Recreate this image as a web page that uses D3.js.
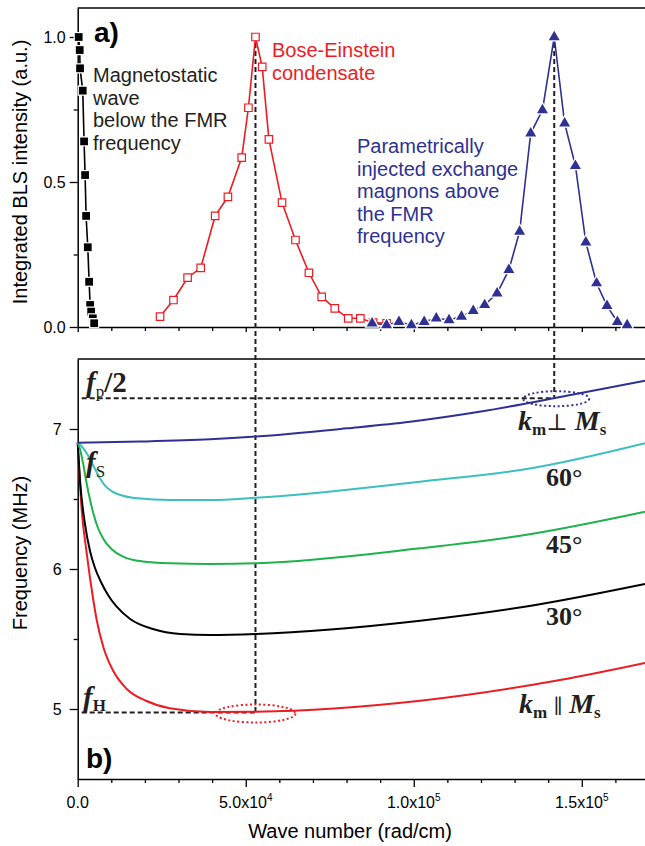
<!DOCTYPE html>
<html>
<head>
<meta charset="utf-8">
<script src="https://cdn.jsdelivr.net/npm/d3@7"></script>
<style>
body{margin:0;background:#fff;}
svg{display:block;font-family:Arial,"Liberation Sans",sans-serif;}
</style>
</head>
<body>
<script>
//begin data  (wave number k in 1e3 rad/cm)
var msK=[0.3,0.6,0.7,1.5,1.9,2.2,2.5,3.0,3.4,3.7,4.0,4.5,4.9];
var msI=[1.0,0.955,0.892,0.815,0.64,0.524,0.383,0.275,0.156,0.076,0.053,0.03,0.013];
var becK=[24.5,28.5,32.7,36.6,40.9,44.7,48.8,50.8,52.9,54.9,56.9,60.8,64.8,68.8,72.6,76.5,80.5,84.1,87.9,91.9];
var becI=[0.036,0.093,0.170,0.204,0.383,0.449,0.584,0.756,1.0,0.897,0.647,0.429,0.30,0.187,0.104,0.064,0.03,0.03,0.015,0.013];
var exK=[87.6,91.9,95.6,99.3,103.1,106.7,110.5,114.2,117.7,121.1,124.8,128.3,131.5,134.8,138.3,141.8,144.9,148.1,151.2,154.4,157.5,160.6,163.5];
var exI=[0.013,0.007,0.018,0.007,0.018,0.03,0.024,0.036,0.056,0.076,0.116,0.197,0.329,0.668,0.748,1.0,0.702,0.556,0.292,0.151,0.073,0.018,0.007];

// dispersion curves, frequency in MHz
var perpK=[0,18.5,39.4,53.1,80.2,98.9,120,141.6,168.8];
var perpF=[6.902,6.91,6.926,6.946,7.005,7.052,7.125,7.219,7.345];
var a60K=[0,0.68,2.17,3.66,5.15,6.64,8.13,10.2,13.2,17.7,27.4,39.4,53.1,101.9,134.9,168.8];
var a60F=[6.902,6.889,6.846,6.786,6.714,6.646,6.596,6.554,6.525,6.505,6.493,6.493,6.509,6.624,6.719,6.898];
var a45K=[0,0.68,1.58,2.47,3.36,4.55,6.04,7.83,10.2,13.5,19.4,27.4,39.4,53.1,101.9,134.9,168.8];
var a45F=[6.902,6.857,6.757,6.636,6.529,6.407,6.293,6.207,6.139,6.089,6.054,6.041,6.036,6.041,6.148,6.25,6.409];
var a30K=[0,0.68,2.17,3.66,5.15,6.93,9.02,11.4,15.6,22.4,30.5,39.4,53.1,101.9,134.9,168.8];
var a30F=[6.902,6.636,6.321,6.129,6.007,5.907,5.814,5.736,5.643,5.571,5.536,5.529,5.536,5.631,5.738,5.893];
var parK=[0,1.19,2.68,3.66,4.55,5.65,7.62,10.6,14.6,20.5,27.4,39.4,53.1,101.9,143.5,168.8];
var parF=[6.902,6.421,6.114,5.936,5.793,5.636,5.443,5.271,5.143,5.057,5.005,4.979,4.981,5.059,5.207,5.329];

var fpHalf=7.22, fH=4.975;
var yTopTicks=[0,0.5,1.0], yTopMinor=[0.25,0.75];
var yBotTicks=[5,6,7], yBotMinor=[5.5,6.5];
var xTicks=[0,50,100,150];
var xMinor=[10,20,30,40,60,70,80,90,110,120,130,140,160];
var xTickMant=["0.0","5.0x10","1.0x10","1.5x10"], xTickExp=["","4","5","5"];
//end data

var W=645,H=846;
var cBlue="#2e3192",cRed="#ed1c24",cCyan="#3bbfbf",cGreen="#1fb14b",cDash="#231f20";

var svg=d3.select("body").append("svg").attr("width",W).attr("height",H);

var x=d3.scaleLinear().domain([0,170]).range([77.7,649]);
var yT=d3.scaleLinear().domain([0,1.1]).range([327,8]);
var yB=d3.scaleLinear().domain([4.5,7.5]).range([779,359]);

function zip(a,b){return a.map(function(v,i){return [v,b[i]];});}

//frames
svg.append("line").attr("x1",x(0)).attr("x2",W).attr("y1",yT(1.1)).attr("y2",yT(1.1))
  .attr("stroke","#000").attr("stroke-width",1.5);
svg.append("line").attr("x1",x(0)).attr("x2",W).attr("y1",yB(7.5)).attr("y2",yB(7.5))
  .attr("stroke","#000").attr("stroke-width",1.5);

//axes
function styleAxis(g){
  g.select(".domain").attr("stroke-width",1.5);
  g.selectAll(".tick line").attr("stroke-width",1.3);
  g.selectAll("text").attr("font-size",16).attr("font-family","Arial,'Liberation Sans',sans-serif").attr("fill","#000");
}
function minor(g){g.select(".domain").remove();g.selectAll("line").attr("stroke-width",1.3);}

var gyT=svg.append("g").attr("transform","translate("+x(0)+",0)")
  .call(d3.axisLeft(yT).tickValues(yTopTicks).tickFormat(d3.format(".1f")).tickSize(8).tickSizeOuter(0).tickPadding(4));
styleAxis(gyT);
svg.append("g").attr("transform","translate("+x(0)+",0)")
  .call(d3.axisLeft(yT).tickValues(yTopMinor).tickFormat("").tickSize(4).tickSizeOuter(0)).call(minor);

var gyB=svg.append("g").attr("transform","translate("+x(0)+",0)")
  .call(d3.axisLeft(yB).tickValues(yBotTicks).tickFormat(d3.format("d")).tickSize(8).tickSizeOuter(0).tickPadding(8));
styleAxis(gyB);
svg.append("g").attr("transform","translate("+x(0)+",0)")
  .call(d3.axisLeft(yB).tickValues(yBotMinor).tickFormat("").tickSize(4).tickSizeOuter(0)).call(minor);

[yT(0),yB(4.5)].forEach(function(yy,i){
  var g=svg.append("g").attr("transform","translate(0,"+yy+")")
    .call(d3.axisBottom(x).tickValues(xTicks).tickFormat("").tickSize(i?8:5).tickSizeOuter(0));
  styleAxis(g);
  svg.append("g").attr("transform","translate(0,"+yy+")")
    .call(d3.axisBottom(x).tickValues(xMinor).tickFormat("").tickSize(4).tickSizeOuter(0)).call(minor);
});
//x tick labels with exponent
var xl=svg.append("g").selectAll("text").data(xTicks).enter().append("text")
  .attr("x",function(d){return x(d);}).attr("y",808).attr("text-anchor","middle")
  .attr("font-size",16);
xl.append("tspan").text(function(d,i){return xTickMant[i];});
xl.append("tspan").attr("dy",-7).attr("font-size",10).text(function(d,i){return xTickExp[i];});

//axis titles
svg.append("text").attr("transform","translate(27,172) rotate(-90)").attr("text-anchor","middle")
  .attr("font-size",20).text("Integrated BLS intensity (a.u.)");
svg.append("text").attr("transform","translate(27,553) rotate(-90)").attr("text-anchor","middle")
  .attr("font-size",20).text("Frequency (MHz)");
svg.append("text").attr("x",350).attr("y",838).attr("text-anchor","middle")
  .attr("font-size",20).text("Wave number (rad/cm)");

//guide lines
var becPeak=becK[becI.indexOf(d3.max(becI))], exPeak=exK[exI.indexOf(d3.max(exI))];
var dash={"stroke":cDash,"stroke-width":2,"stroke-dasharray":"5,3","fill":"none"};
function ln(x1,y1,x2,y2){
  var l=svg.append("line").attr("x1",x1).attr("y1",y1).attr("x2",x2).attr("y2",y2);
  for(var k in dash) l.attr(k,dash[k]);
}
ln(x(becPeak),yT(1)+6,x(becPeak),yB(fH));
ln(x(exPeak),yT(1)+6,x(exPeak),yB(fpHalf));
ln(x(0)+4,yB(fpHalf),x(exPeak),yB(fpHalf));
ln(x(0)+4,yB(fH),x(becPeak),yB(fH));

//dispersion curves
var line=d3.line().x(function(d){return x(d[0]);}).y(function(d){return yB(d[1]);}).curve(d3.curveMonotoneX);
var curves=[[parK,parF,cRed],[a30K,a30F,"#000"],[a45K,a45F,cGreen],[a60K,a60F,cCyan],[perpK,perpF,cBlue]];
curves.forEach(function(c){
  svg.append("path").datum(zip(c[0],c[1])).attr("d",line)
    .attr("fill","none").attr("stroke",c[2]).attr("stroke-width",2);
});

//dotted ellipses
svg.append("ellipse").attr("cx",x(becPeak)).attr("cy",yB(fH)+1).attr("rx",40).attr("ry",9)
  .attr("fill","none").attr("stroke",cRed).attr("stroke-width",2).attr("stroke-dasharray","2,2.5");
svg.append("ellipse").attr("cx",x(exPeak)+2).attr("cy",yB(fpHalf)+0.5).attr("rx",33).attr("ry",7.5)
  .attr("fill","none").attr("stroke",cBlue).attr("stroke-width",2).attr("stroke-dasharray","2,2.5");

//BLS data
var lineT=d3.line().x(function(d){return x(d[0]);}).y(function(d){return yT(d[1]);});
function series(k,v,col,sym,size,filled){
  svg.append("path").datum(zip(k,v)).attr("d",lineT)
    .attr("fill","none").attr("stroke",col).attr("stroke-width",1.6);
  svg.append("g").selectAll("path").data(zip(k,v)).enter().append("path")
    .attr("transform",function(d){return "translate("+x(d[0])+","+yT(d[1])+")";})
    .attr("d",d3.symbol().type(sym).size(size))
    .attr("fill",filled?col:"#fff")
    .attr("stroke",filled?"#fff":col)
    .attr("stroke-width",filled?2.5:1.2)
    .style("paint-order",filled?"stroke":"normal");
}
series(becK,becI,cRed,d3.symbolSquare,56,false);
series(msK,msI,"#000",d3.symbolSquare,60,true);
series(exK,exI,cBlue,d3.symbolTriangle,52,true);

//annotations
function lines(arr,x0,y0,dy,col){
  arr.forEach(function(t,i){
    svg.append("text").attr("x",x0).attr("y",y0+i*dy).attr("font-size",20).attr("fill",col).text(t);
  });
}
lines(["Magnetostatic","wave","below the FMR","frequency"],93,82,22.7,"#231f20");
lines(["Bose-Einstein","condensate"],272,57,22.5,cRed);
lines(["Parametrically","injected exchange","magnons above","the FMR","frequency"],357,153,22.5,cBlue);

svg.append("text").attr("x",94).attr("y",42).attr("font-size",28).attr("font-weight","bold").text("a)");
svg.append("text").attr("x",86).attr("y",768).attr("font-size",28).attr("font-weight","bold").text("b)");

var serif="'Liberation Serif','Times New Roman',serif";
function sym(x0,y0,fs,parts){
  var t=svg.append("text").attr("x",x0).attr("y",y0).attr("font-family",serif)
    .attr("font-weight","bold").attr("font-size",fs).attr("fill","#231f20");
  parts.forEach(function(p){
    var s=t.append("tspan").text(p[0]);
    if(p[1]) s.attr("font-style","italic");
    if(p[2]) s.attr("font-size",p[2]);
    if(p[3]) s.attr("dy",p[3]);
    if(p[4]) s.attr("font-family",p[4]);
    if(p[5]) s.attr("font-weight",p[5]);
  });
}
sym(86,392,29,[["f",1],["p",0,17,5,null,"normal"],["/2",0,0,-5]]);
sym(86,472,29,[["f",1],["S",0,17,5,null,"normal"]]);
sym(83,707,29,[["f",1],["H",0,17,4]]);
sym(518,430,28,[["k",1],["m",0,17,5],["\u22A5",0,23,-5,"'DejaVu Serif',serif","normal"],[" ",0],["M",1],["s",0,17,5]]);
sym(519,713,28,[["k",1],["m",0,17,5],[" \u2225 ",0,20,-5,"'DejaVu Serif',serif","normal"],["M",1],["s",0,17,5]]);
sym(546,486,26,[["60\u00B0",0]]);
sym(546,553,26,[["45\u00B0",0]]);
sym(546,625,26,[["30\u00B0",0]]);
</script>
</body>
</html>
